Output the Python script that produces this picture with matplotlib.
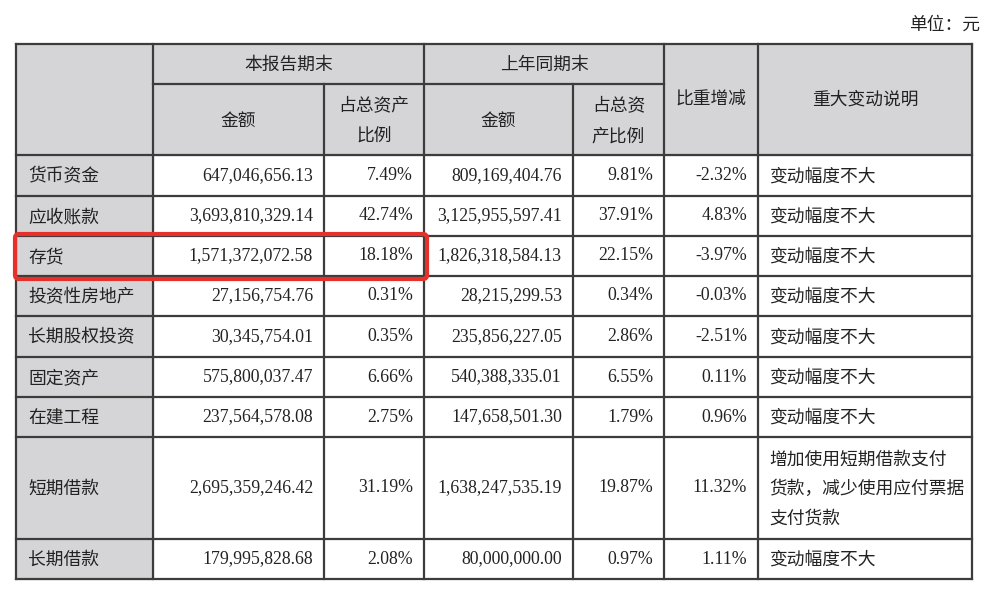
import matplotlib
matplotlib.use("Agg")
import matplotlib.pyplot as plt
from matplotlib.patches import Rectangle, FancyBboxPatch

plt.rcParams['font.family'] = ['Liberation Serif', 'Noto Sans CJK SC', 'DejaVu Sans']

# ---- data ----
items = ["货币资金", "应收账款", "存货", "投资性房地产", "长期股权投资",
         "固定资产", "在建工程", "短期借款", "长期借款"]
amount_cur = ["647,046,656.13", "3,693,810,329.14", "1,571,372,072.58", "27,156,754.76",
              "30,345,754.01", "575,800,037.47", "237,564,578.08", "2,695,359,246.42",
              "179,995,828.68"]
ratio_cur = ["7.49%", "42.74%", "18.18%", "0.31%", "0.35%", "6.66%", "2.75%", "31.19%", "2.08%"]
amount_prev = ["809,169,404.76", "3,125,955,597.41", "1,826,318,584.13", "28,215,299.53",
               "235,856,227.05", "540,388,335.01", "147,658,501.30", "1,638,247,535.19",
               "80,000,000.00"]
ratio_prev = ["9.81%", "37.91%", "22.15%", "0.34%", "2.86%", "6.55%", "1.79%", "19.87%", "0.97%"]
change = ["-2.32%", "4.83%", "-3.97%", "-0.03%", "-2.51%", "0.11%", "0.96%", "11.32%", "1.11%"]
notes = ["变动幅度不大", "变动幅度不大", "变动幅度不大", "变动幅度不大", "变动幅度不大",
         "变动幅度不大", "变动幅度不大", "增加使用短期借款支付\n货款，减少使用应付票据\n支付货款",
         "变动幅度不大"]
highlight_row = "存货"

# ---- layout (pixels) ----
W, H = 992, 595
col_x = [16, 153, 324, 424, 573, 664, 758, 972]
top, mid_head, head_bot = 44, 84, 155
row_y = [155, 196, 236, 276, 316, 357, 397, 437, 539, 579]

fig = plt.figure(figsize=(W / 100, H / 100), dpi=100)
ax = fig.add_axes([0, 0, 1, 1])
ax.set_xlim(0, W)
ax.set_ylim(H, 0)
ax.axis('off')
fig.patch.set_facecolor('white')

gray = '#d5d5d7'
line_c = '#3c3c3c'
txt_c = '#222222'
fs_cn = 12.8
fs_num = 12.8
cn_dy = 1.5

# backgrounds
ax.add_patch(Rectangle((col_x[0], top), col_x[-1] - col_x[0], head_bot - top, color=gray, zorder=0))
ax.add_patch(Rectangle((col_x[0], head_bot), col_x[1] - col_x[0], row_y[-1] - head_bot, color=gray, zorder=0))

lw = 1.6
def hl(y, x0, x1):
    ax.plot([x0, x1], [y, y], color=line_c, lw=lw, solid_capstyle='projecting', zorder=2)
def vl(x, y0, y1):
    ax.plot([x, x], [y0, y1], color=line_c, lw=lw, solid_capstyle='projecting', zorder=2)

hl(top, col_x[0], col_x[-1])
hl(mid_head, col_x[1], col_x[5])
for y in row_y:
    hl(y, col_x[0], col_x[-1])
for i, x in enumerate(col_x):
    if i in (2, 4):
        vl(x, mid_head, row_y[-1])
    else:
        vl(x, top, row_y[-1])

def cn(x, y, s, ha='center', step=30):
    lines = s.split("\n")
    n = len(lines)
    for k, line in enumerate(lines):
        yy = y + (k - (n - 1) / 2) * step + cn_dy
        ax.text(x, yy, line, ha=ha, va='center', fontsize=fs_cn, color=txt_c, zorder=3)

# header texts
cn((col_x[1] + col_x[3]) / 2, 64, "本报告期末")
cn((col_x[3] + col_x[5]) / 2, 64, "上年同期末")
cn((col_x[1] + col_x[2]) / 2, 120, "金额")
cn((col_x[2] + col_x[3]) / 2, 120, "占总资产\n比例", step=32)
cn((col_x[3] + col_x[4]) / 2, 120, "金额")
cn((col_x[4] + col_x[5]) / 2, 120, "占总资\n产比例", step=32)
cn((col_x[5] + col_x[6]) / 2, 99, "比重增减")
cn((col_x[6] + col_x[7]) / 2, 99, "重大变动说明")
cn(980, 24, "单位：元", ha='right')

# body
for i in range(len(items)):
    yc = (row_y[i] + row_y[i + 1]) / 2
    cn(28, yc, items[i], ha='left')
    ax.text(313, yc, amount_cur[i], ha='right', va='center', fontsize=fs_num, color=txt_c, zorder=3)
    ax.text(413, yc, ratio_cur[i], ha='right', va='center', fontsize=fs_num, color=txt_c, zorder=3)
    ax.text(562, yc, amount_prev[i], ha='right', va='center', fontsize=fs_num, color=txt_c, zorder=3)
    ax.text(653, yc, ratio_prev[i], ha='right', va='center', fontsize=fs_num, color=txt_c, zorder=3)
    ax.text(747, yc, change[i], ha='right', va='center', fontsize=fs_num, color=txt_c, zorder=3)
    cn(769, yc, notes[i], ha='left', step=29)

# highlight box
hi = items.index(highlight_row)
y0, y1 = row_y[hi] - 2, row_y[hi + 1] + 3
box = FancyBboxPatch((15, y0), 427 - 15, y1 - y0, boxstyle="round,pad=0,rounding_size=4",
                     fill=False, edgecolor='#e8302a', lw=3.0, zorder=4)
ax.add_patch(box)

fig.savefig("out.png", dpi=100, facecolor='white')
